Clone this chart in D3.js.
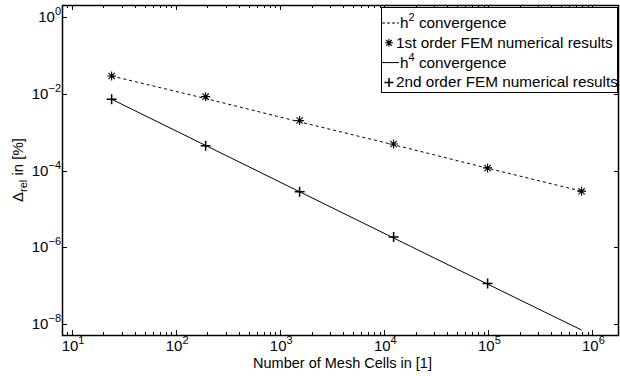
<!DOCTYPE html>
<html>
<head>
<meta charset="utf-8">
<script src="https://cdn.jsdelivr.net/npm/d3@7"></script>
<style>
  body { margin: 0; background: #fff; }
  svg { display: block; font-family: "Liberation Sans", Arial, sans-serif; }
</style>
</head>
<body>
<div id="chart"></div>
<script>
const cells = [24, 192, 1536, 12288, 98304, 786432]
const firstOrder = [2.9e-2, 8.4e-3, 2.0e-3, 4.9e-4, 1.17e-4, 2.9e-5]
const secondOrder = [7.2e-3, 4.4e-4, 2.8e-5, 1.85e-6, 1.15e-7]
const h2Ref = [2.9e-2, 7.5e-3, 1.85e-3, 4.7e-4, 1.15e-4, 2.9e-5]
const h4Ref = [7.2e-3, 4.5e-4, 2.8e-5, 1.75e-6, 1.1e-7, 7e-9]
const xTicks = [1e1, 1e2, 1e3, 1e4, 1e5, 1e6]
const yTicks = [1e0, 1e-2, 1e-4, 1e-6, 1e-8]
const legendLabels = [
  { sup: true, base: "h", exp: "2", rest: " convergence", kind: "dash" },
  { text: "1st order FEM numerical results", kind: "star" },
  { sup: true, base: "h", exp: "4", rest: " convergence", kind: "solid" },
  { text: "2nd order FEM numerical results", kind: "plus" }
]

const width = 620, height = 376
const margin = { top: 5, right: 1, bottom: 41, left: 62 }

const svg = d3.select("#chart").append("svg")
  .attr("width", width)
  .attr("height", height)

const x = d3.scaleLog()
  .domain([8, 1.8e6])
  .range([margin.left, width - margin.right])

const y = d3.scaleLog()
  .domain([5.2e-9, 2.05])
  .range([height - margin.bottom, margin.top])

const x0 = margin.left, x1 = width - margin.right
const y0 = height - margin.bottom, y1 = margin.top

// minor ticks for x
const xMinor = []
for (let e = 0; e <= 6; e++) {
  for (let m = 2; m <= 9; m++) {
    const v = m * Math.pow(10, e)
    if (v > x.domain()[0] && v < x.domain()[1]) xMinor.push(v)
  }
}

const ticks = svg.append("g").attr("stroke", "#000").attr("stroke-width", 1)

xTicks.forEach(v => {
  const px = Math.round(x(v)) + 0.5
  ticks.append("line").attr("x1", px).attr("x2", px).attr("y1", y0).attr("y2", y0 - 5)
  ticks.append("line").attr("x1", px).attr("x2", px).attr("y1", y1).attr("y2", y1 + 5)
})
xMinor.forEach(v => {
  const px = Math.round(x(v)) + 0.5
  ticks.append("line").attr("x1", px).attr("x2", px).attr("y1", y0).attr("y2", y0 - 3)
  ticks.append("line").attr("x1", px).attr("x2", px).attr("y1", y1).attr("y2", y1 + 3)
})
yTicks.forEach(v => {
  const py = Math.round(y(v)) + 0.5
  ticks.append("line").attr("x1", x0).attr("x2", x0 + 5).attr("y1", py).attr("y2", py)
  ticks.append("line").attr("x1", x1).attr("x2", x1 - 5).attr("y1", py).attr("y2", py)
})

// frame
svg.append("rect")
  .attr("x", x0 + 0.5)
  .attr("y", y1 + 0.5)
  .attr("width", x1 - x0 - 1)
  .attr("height", y0 - y1)
  .attr("fill", "none")
  .attr("stroke", "#000")
  .attr("stroke-width", 1.5)

// tick labels
const pow = v => Math.round(Math.log10(v))
xTicks.forEach(v => {
  const t = svg.append("text")
    .attr("x", x(v) + 1)
    .attr("y", y0 + 16)
    .attr("text-anchor", "middle")
    .attr("font-size", 15)
  t.append("tspan").text("10")
  t.append("tspan").attr("dy", -7).attr("font-size", 11).text(pow(v))
})
yTicks.forEach(v => {
  const t = svg.append("text")
    .attr("x", x0 - 1)
    .attr("y", y(v) + 5)
    .attr("text-anchor", "end")
    .attr("font-size", 15)
  t.append("tspan").text("10")
  t.append("tspan").attr("dy", -7).attr("font-size", 11)
    .text(pow(v) < 0 ? "\u2212" + (-pow(v)) : pow(v))
})

// axis labels
svg.append("text")
  .attr("x", (x0 + x1) / 2 + 2)
  .attr("y", height - 8)
  .attr("text-anchor", "middle")
  .attr("font-size", 14.5)
  .text("Number of Mesh Cells in [1]")

const yl = svg.append("text")
  .attr("transform", `translate(23,${(y0 + y1) / 2}) rotate(-90)`)
  .attr("text-anchor", "middle")
  .attr("font-size", 15)
yl.append("tspan").text("\u0394")
yl.append("tspan").attr("dy", 4).attr("font-size", 11).text("rel")
yl.append("tspan").attr("dy", -4).text(" in [%]")

// lines
const line = d3.line().x(d => x(d[0])).y(d => y(d[1]))

svg.append("path")
  .datum(cells.map((c, i) => [c, h2Ref[i]]))
  .attr("fill", "none")
  .attr("stroke", "#000")
  .attr("stroke-width", 1)
  .attr("stroke-dasharray", "3,3")
  .attr("d", line)

svg.append("path")
  .datum(cells.map((c, i) => [c, h4Ref[i]]))
  .attr("fill", "none")
  .attr("stroke", "#000")
  .attr("stroke-width", 1)
  .attr("d", line)

// markers
const star = (g, cx, cy, r) => {
  const p = `M${cx - r},${cy}H${cx + r}M${cx},${cy - r}V${cy + r}` +
    `M${cx - r * 0.7},${cy - r * 0.7}L${cx + r * 0.7},${cy + r * 0.7}` +
    `M${cx - r * 0.7},${cy + r * 0.7}L${cx + r * 0.7},${cy - r * 0.7}`
  g.append("path").attr("d", p).attr("stroke", "#000").attr("stroke-width", 1.1).attr("fill", "none")
}
const plus = (g, cx, cy, r) => {
  g.append("path")
    .attr("d", `M${cx - r},${cy}H${cx + r}M${cx},${cy - r}V${cy + r}`)
    .attr("stroke", "#000").attr("stroke-width", 1.5).attr("fill", "none")
}

const marks = svg.append("g")
firstOrder.forEach((v, i) => star(marks, x(cells[i]), y(v), 4.5))
secondOrder.forEach((v, i) => plus(marks, x(cells[i]), y(v), 5))

// legend
const lg = svg.append("g")
lg.append("rect")
  .attr("x", 381.5)
  .attr("y", 7.5)
  .attr("width", 236)
  .attr("height", 85)
  .attr("fill", "#fff")
  .attr("stroke", "#000")
  .attr("stroke-width", 1)

legendLabels.forEach((d, i) => {
  const cy = 23 + i * 19.8
  let tx
  if (d.kind === "dash" || d.kind === "solid") {
    lg.append("line")
      .attr("x1", 382).attr("x2", 399).attr("y1", cy).attr("y2", cy)
      .attr("stroke", "#000").attr("stroke-width", 1)
      .attr("stroke-dasharray", d.kind === "dash" ? "3,2" : null)
    tx = 400
  } else {
    if (d.kind === "star") star(lg, 389, cy, 4)
    else plus(lg, 389, cy, 4.5)
    tx = 396
  }
  const t = lg.append("text")
    .attr("x", tx)
    .attr("y", cy + 5)
    .attr("font-size", 15.3)
  if (d.sup) {
    t.append("tspan").text(d.base)
    t.append("tspan").attr("dy", -7).attr("font-size", 11).text(d.exp)
    t.append("tspan").attr("dy", 7).text(d.rest)
  } else {
    t.text(d.text)
  }
})
</script>
</body>
</html>
